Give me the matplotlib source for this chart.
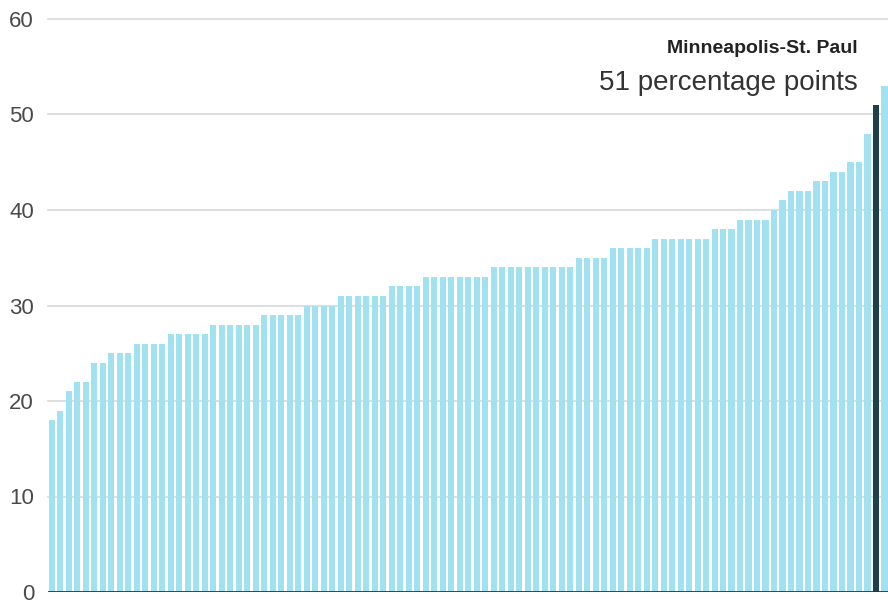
import matplotlib
matplotlib.use("Agg")
import matplotlib.pyplot as plt
import numpy as np

# Values (percentage points), sorted ascending; highlighted bar = Minneapolis-St. Paul
values = [18, 19, 21, 22, 22, 24, 24, 25, 25, 25,
          26, 26, 26, 26, 27, 27, 27, 27, 27,
          28, 28, 28, 28, 28, 28,
          29, 29, 29, 29, 29,
          30, 30, 30, 30,
          31, 31, 31, 31, 31, 31,
          32, 32, 32, 32,
          33, 33, 33, 33, 33, 33, 33, 33,
          34, 34, 34, 34, 34, 34, 34, 34, 34, 34,
          35, 35, 35, 35,
          36, 36, 36, 36, 36,
          37, 37, 37, 37, 37, 37, 37,
          38, 38, 38,
          39, 39, 39, 39,
          40, 41, 42, 42, 42, 43, 43, 44, 44, 45, 45,
          48, 51, 53]
highlight_index = 97
highlight_name = "Minneapolis-St. Paul"
highlight_label = "51 percentage points"
y_ticks = [0, 10, 20, 30, 40, 50, 60]

W, H = 888, 607
fig = plt.figure(figsize=(W / 100, H / 100), dpi=100)
ax = fig.add_axes([48 / W, 1 - 592 / H, 1 - 48 / W, (592 - 19) / H])

x = np.arange(len(values))
colors = ["#a2e2f0"] * len(values)
colors[highlight_index] = "#1f3f4c"
ax.bar(x, values, width=0.74, color=colors, zorder=2)

ax.set_xlim(-0.45, len(values) - 0.6)
ax.set_ylim(0, 60)
ax.set_yticks(y_ticks)
ax.set_xticks([])
for t in y_ticks[1:]:
    ax.axhline(t, color="#d9d9d9", lw=1.2, zorder=1, clip_on=False)
ax.axhline(0, color="#333333", lw=2, zorder=3)
for s in ax.spines.values():
    s.set_visible(False)
ax.tick_params(axis="y", length=0, pad=10, labelsize=16, labelcolor="#4a4a4a")
for lab in ax.get_yticklabels():
    lab.set_family("Liberation Sans")

ax.text(highlight_index - 2.15, 56.9, highlight_name, ha="right", va="center",
        fontsize=14, fontweight="bold", color="#222222", family="Liberation Sans")
ax.text(highlight_index - 2.15, 53.3, highlight_label, ha="right", va="center",
        fontsize=20, color="#333333", family="Liberation Sans")

fig.savefig("out.png", dpi=100)
